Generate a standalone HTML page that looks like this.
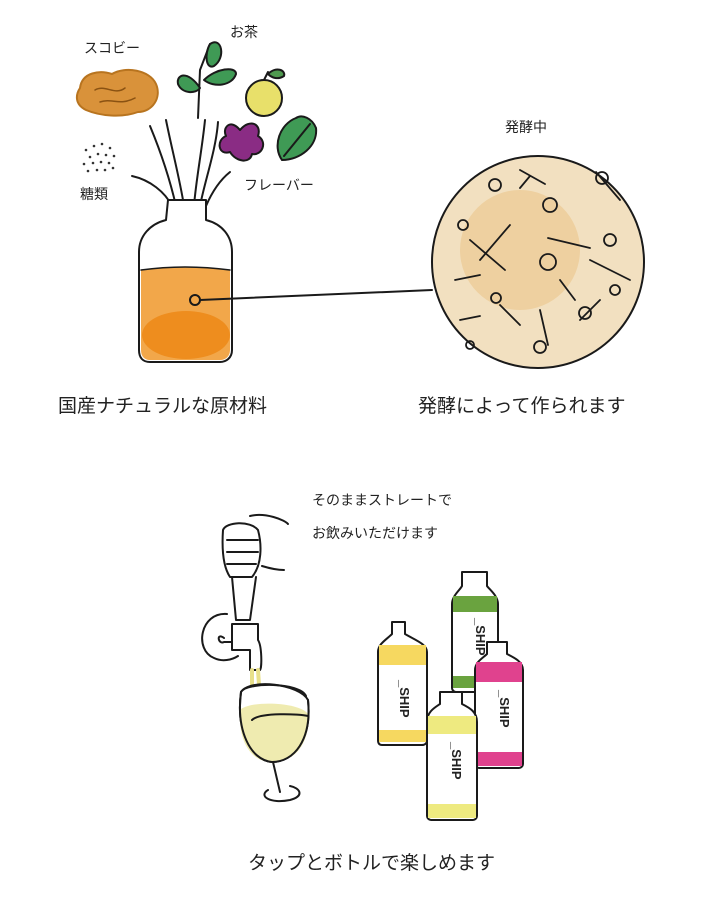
<!DOCTYPE html>
<html><head><meta charset="utf-8"><style>
html,body{margin:0;padding:0;background:#fff;width:720px;height:898px;overflow:hidden}
svg{display:block}
text{font-family:"Liberation Sans","Noto Sans CJK JP",sans-serif;fill:#222}
</style></head><body>
<svg width="720" height="898" viewBox="0 0 720 898" xmlns="http://www.w3.org/2000/svg">
<g stroke="#1a1a1a" stroke-width="2" fill="none" stroke-linecap="round" stroke-linejoin="round">
<!-- scoby -->
<path d="M80 88 C82 72 100 70 112 74 C125 66 150 70 156 84 C162 98 152 112 138 112 C122 118 100 116 86 110 C74 104 76 94 80 88Z" fill="#d9923a" stroke="#b8741f"/>
<path d="M95 90 C105 84 115 96 125 88 M100 102 C112 98 120 106 135 98" stroke="#8a5212" stroke-width="1.5"/>
<!-- sugar dots -->
<g fill="#333" stroke="none">
<circle cx="86" cy="150" r="1.3"/><circle cx="94" cy="146" r="1.3"/><circle cx="102" cy="144" r="1.3"/><circle cx="110" cy="148" r="1.3"/><circle cx="90" cy="157" r="1.3"/><circle cx="98" cy="154" r="1.3"/><circle cx="106" cy="155" r="1.3"/><circle cx="114" cy="156" r="1.3"/><circle cx="84" cy="164" r="1.3"/><circle cx="93" cy="163" r="1.3"/><circle cx="101" cy="162" r="1.3"/><circle cx="109" cy="163" r="1.3"/><circle cx="88" cy="171" r="1.3"/><circle cx="97" cy="170" r="1.3"/><circle cx="105" cy="170" r="1.3"/><circle cx="113" cy="168" r="1.3"/>
</g>
<!-- tea leaves -->
<path d="M198 118 L200 70 L210 44" />
<path d="M210 44 C222 36 226 58 214 66 C206 70 204 54 210 44Z" fill="#3f9a55"/>
<path d="M200 88 C188 70 176 74 178 84 C182 94 196 94 200 88Z" fill="#3f9a55"/>
<path d="M204 80 C216 68 236 66 236 74 C232 86 214 88 204 80Z" fill="#3f9a55"/>
<!-- yuzu -->
<circle cx="264" cy="98" r="18" fill="#e8e06a"/>
<path d="M264 80 L268 72 M268 74 C276 66 286 70 284 76 C278 80 272 78 268 74Z" fill="#4f9a4f"/>
<!-- fig leaf purple -->
<path d="M240 130 C230 118 222 128 226 136 C216 140 218 156 230 152 C236 162 250 164 252 154 C262 156 268 142 258 136 C262 124 250 118 240 130Z" fill="#8a2c84"/>
<!-- shiso -->
<path d="M296 118 C280 124 272 146 282 160 C300 160 318 146 316 128 C312 118 302 114 296 118Z" fill="#3f9a55"/>
<path d="M284 156 L310 124"/>
<!-- arrows -->
<path d="M150 126 C160 150 170 180 176 206"/><path d="M170 202 l6 6 l2 -8"/>
<path d="M166 120 C172 150 180 180 184 206"/>
<path d="M205 120 C202 150 196 180 194 206"/>
<path d="M218 122 C216 150 205 180 200 206"/>
<path d="M132 176 C150 180 165 192 172 206"/>
<path d="M230 172 C220 180 212 192 206 206"/>
<!-- jar -->
<path d="M168 200 L206 200 L206 220 C222 224 232 236 232 252 L232 350 C232 358 226 362 220 362 L150 362 C143 362 139 358 139 350 L139 252 C139 236 150 224 166 220 Z" fill="#fff"/>
<path d="M141 270 C170 266 200 266 230 270 L230 350 C230 356 226 360 220 360 L150 360 C144 360 141 356 141 350 Z" fill="#f2a74a" stroke="none"/>
<ellipse cx="186" cy="335" rx="44" ry="24" fill="#ee8d1e" stroke="none"/>
<path d="M141 270 C170 266 200 266 230 270" stroke-width="1.5"/>
<circle cx="195" cy="300" r="5" fill="#f2a74a"/>
<path d="M200 300 L432 290"/>
<!-- ferment circle -->
<circle cx="538" cy="262" r="106" fill="#f2e0c0"/>
<circle cx="520" cy="250" r="60" fill="#eed0a0" stroke="none"/>
<g stroke-width="1.8">
<path d="M470 240 L505 270 M480 260 L510 225 M548 238 L590 248 M560 280 L575 300 M596 172 L620 200 M590 260 L630 280 M500 305 L520 325 M520 188 L530 176 M455 280 L480 275 M540 310 L548 345 M600 300 L580 320 M460 320 L480 316 M520 170 L545 184"/>
<circle cx="495" cy="185" r="6"/><circle cx="550" cy="205" r="7"/><circle cx="602" cy="178" r="6"/><circle cx="610" cy="240" r="6"/><circle cx="548" cy="262" r="8"/><circle cx="463" cy="225" r="5"/><circle cx="496" cy="298" r="5"/><circle cx="585" cy="313" r="6"/><circle cx="540" cy="347" r="6"/><circle cx="615" cy="290" r="5"/><circle cx="470" cy="345" r="4"/>
</g>
<!-- tap -->
<path d="M223 530 C226 522 250 520 258 530 C262 545 262 565 252 577 L230 577 C222 565 222 545 223 530Z" fill="#fff"/>
<path d="M250 516 C265 512 285 520 288 524 M262 566 C275 570 283 570 284 570 M227 540 L258 540 M227 552 L258 552 M227 564 L256 564"/>
<path d="M232 577 L236 620 L250 620 L256 577"/>
<path d="M227 614 C200 612 194 650 214 658 C222 662 232 660 238 656 M224 638 C216 632 218 645 224 642 L236 642"/>
<path d="M232 624 L258 624 L258 640 C262 646 262 668 260 670 L250 670 L250 650 L232 650Z" fill="#fff"/>
<!-- glass -->
<path d="M252 670 L252 700 M258 670 L260 700" stroke="#e8e08a" stroke-width="4"/>
<path d="M241 692 C236 730 250 760 272 762 C294 762 312 740 308 700 C300 684 250 678 241 692Z" fill="#fff"/>
<path d="M240 710 C250 700 300 702 308 714 C310 740 298 762 272 762 C250 762 238 740 240 710Z" fill="#efebb0" stroke="none"/>
<path d="M241 692 C236 730 250 760 272 762 C294 762 312 740 308 700"/>
<path d="M241 692 C246 682 300 682 306 696"/>
<path d="M252 720 C260 712 300 714 308 716"/>
<path d="M273 762 L280 792 M268 790 C258 796 270 804 290 800 C305 796 300 788 290 786"/>
<!-- bottles -->
<g>
<path d="M462 572 L487 572 L487 586 C490 590 498 596 498 604 L498 688 C498 690 496 692 494 692 L456 692 C454 692 452 690 452 688 L452 604 C452 596 460 590 462 586Z" fill="#fff"/>
<path d="M453 596 L497 596 L497 612 L453 612Z" fill="#6aa33f" stroke="none"/>
<path d="M453 676 L497 676 L497 688 L453 688Z" fill="#6aa33f" stroke="none"/>
<path d="M392 622 L405 622 L405 634 C415 640 427 644 427 652 L427 740 C427 743 425 745 422 745 L382 745 C379 745 378 743 378 740 L378 652 C378 644 386 640 392 634Z" fill="#fff"/>
<path d="M379 645 L426 645 L426 665 L379 665Z" fill="#f6d860" stroke="none"/>
<path d="M379 730 L426 730 L426 742 L379 742Z" fill="#f6d860" stroke="none"/>
<path d="M487 642 L507 642 L507 654 C515 658 523 662 523 670 L523 764 C523 766 521 768 519 768 L479 768 C477 768 475 766 475 764 L475 670 C475 662 483 658 487 654Z" fill="#fff"/>
<path d="M476 662 L522 662 L522 682 L476 682Z" fill="#e0428e" stroke="none"/>
<path d="M476 752 L522 752 L522 766 L476 766Z" fill="#e0428e" stroke="none"/>
<path d="M440 692 L462 692 L462 704 C470 708 477 712 477 722 L477 816 C477 818 475 820 473 820 L431 820 C429 820 427 818 427 816 L427 722 C427 712 434 708 440 704Z" fill="#fff"/>
<path d="M428 716 L476 716 L476 734 L428 734Z" fill="#eeea80" stroke="none"/>
<path d="M428 804 L476 804 L476 818 L428 818Z" fill="#eeea80" stroke="none"/>
</g>
</g>
<g font-weight="bold" fill="#222" stroke="none">
<text x="400" y="680" font-size="13" transform="rotate(90 400 680)" style="font-family:'Liberation Sans',sans-serif">_SHIP</text>
<text x="476" y="618" font-size="13" transform="rotate(90 476 618)">_SHIP</text>
<text x="500" y="690" font-size="13" transform="rotate(90 500 690)">_SHIP</text>
<text x="452" y="742" font-size="13" transform="rotate(90 452 742)">_SHIP</text>
</g>
<text x="84" y="53" font-size="14">スコビー</text>
<text x="230" y="37" font-size="14">お茶</text>
<text x="80" y="199" font-size="14">糖類</text>
<text x="244" y="190" font-size="14">フレーバー</text>
<text x="505" y="132" font-size="14">発酵中</text>
<text x="58" y="412" font-size="19">国産ナチュラルな原材料</text>
<text x="418" y="412" font-size="19">発酵によって作られます</text>
<text x="312" y="505" font-size="14">そのままストレートで</text>
<text x="312" y="538" font-size="14">お飲みいただけます</text>
<text x="248" y="869" font-size="19">タップとボトルで楽しめます</text>
</svg>
</body></html>
